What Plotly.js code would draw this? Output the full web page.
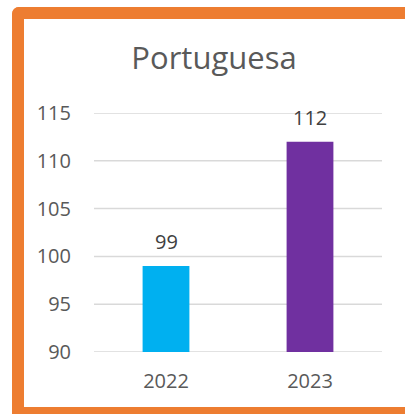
<!DOCTYPE html>
<html>
<head>
<meta charset="utf-8">
<script src="https://cdn.plot.ly/plotly-3.0.1.min.js"></script>
<style>
  html, body { margin:0; padding:0; width:405px; height:414px; overflow:hidden; background:#ffffff; }
  #chart { position:absolute; left:0; top:0; width:405px; height:414px; }
  #frame { position:absolute; left:12px; top:7px; width:460px; height:412px; box-sizing:border-box;
           border-top:12px solid #ED7D31; border-left:12px solid #ED7D31; border-bottom:12px solid #ED7D31;
           border-top-left-radius:7px; pointer-events:none; z-index:10; }
</style>
</head>
<body>
<div id="chart"></div>
<div id="frame"></div>
<script>
const categories = ["2022", "2023"];
const values = [99, 112];
const barColors = ["#00B0F0", "#7030A0"];
const tickVals = [90, 95, 100, 105, 110, 115];
const chartTitle = "Portuguesa";

const trace = {
  type: "bar",
  x: categories,
  y: values,
  marker: { color: barColors },
  hoverinfo: "none"
};

const labels = categories.map((c, i) => ({
  x: i, y: values[i], xref: "x", yref: "y",
  text: String(values[i]), showarrow: false,
  yanchor: "bottom", yshift: 9,
  font: { family: "Open Sans", size: 20, color: "#404040" }
}));

const gridShapes = tickVals.map(v => ({
  type: "line", xref: "paper", yref: "y",
  x0: 0, x1: 1, y0: v, y1: v, layer: "below",
  line: { color: "#D9D9D9", width: 1.5 }
}));

const layout = {
  width: 405, height: 414,
  margin: { l: 94, r: 23, t: 113, b: 62 },
  paper_bgcolor: "rgba(0,0,0,0)",
  plot_bgcolor: "rgba(0,0,0,0)",
  showlegend: false,
  bargap: 0.675,
  font: { family: "Open Sans", color: "#595959" },
  annotations: labels,
  shapes: gridShapes,
  title: {
    text: chartTitle,
    font: { family: "Open Sans", size: 31, color: "#595959" },
    xref: "container", x: 214/405, xanchor: "center",
    yref: "container", y: 1 - 58/414, yanchor: "middle"
  },
  xaxis: {
    type: "category",
    range: [-0.5, categories.length - 0.5],
    showgrid: false, zeroline: false, showline: false,
    tickfont: { family: "Open Sans", size: 20, color: "#595959" },
    ticks: "outside", ticklen: 11, tickcolor: "rgba(0,0,0,0)"
  },
  yaxis: {
    range: [90, 115],
    tickmode: "array", tickvals: tickVals, ticktext: tickVals.map(String),
    showgrid: false,
    zeroline: false, showline: false,
    ticks: "outside", ticklen: 18, tickcolor: "rgba(0,0,0,0)",
    tickfont: { family: "Open Sans", size: 20, color: "#595959" }
  }
};

Plotly.newPlot("chart", [trace], layout, { displayModeBar: false, staticPlot: true });
</script>
</body>
</html>
